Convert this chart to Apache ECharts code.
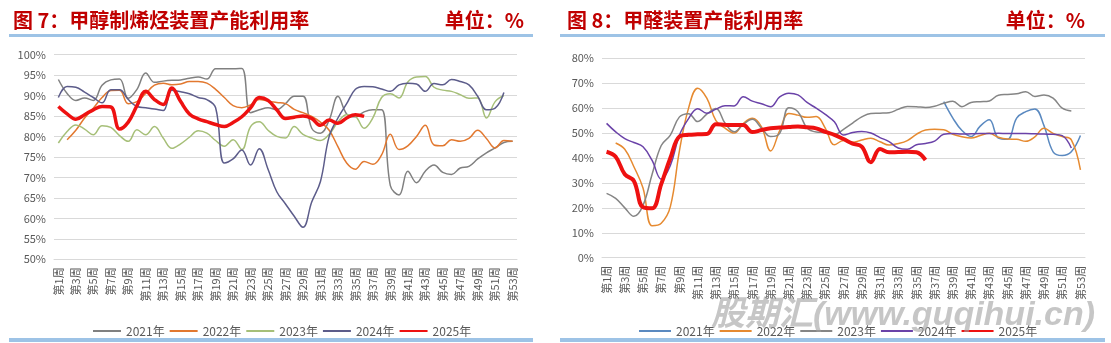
<!DOCTYPE html>
<html><head><meta charset="utf-8">
<script src="https://cdn.jsdelivr.net/npm/echarts@6/dist/echarts.min.js"></script>
<style>
html,body{margin:0;padding:0;background:#fff;width:1111px;height:343px;overflow:hidden}
#c1{position:absolute;left:0;top:0;width:555px;height:343px}
#c2{position:absolute;left:555px;top:0;width:556px;height:343px}
</style>
</head><body><div id="c1"></div><div id="c2"></div>
<script>
const weeks = ['第1周','第2周','第3周','第4周','第5周','第6周','第7周','第8周','第9周','第10周',
'第11周','第12周','第13周','第14周','第15周','第16周','第17周','第18周','第19周','第20周',
'第21周','第22周','第23周','第24周','第25周','第26周','第27周','第28周','第29周','第30周',
'第31周','第32周','第33周','第34周','第35周','第36周','第37周','第38周','第39周','第40周',
'第41周','第42周','第43周','第44周','第45周','第46周','第47周','第48周','第49周','第50周',
'第51周','第52周','第53周'];
const yearNames = ['2021年','2022年','2023年','2024年','2025年'];

// 图7 甲醇制烯烃装置产能利用率 (%)
const mto2021 = [93.9,90.5,88.8,89.4,88.8,92.5,93.8,94.0,89.3,91.5,95.5,93.2,93.5,93.7,93.8,94.2,94.5,94.0,96.5,96.5,96.5,96.6,85.8,86.5,87.0,86.5,88.0,89.8,89.8,82.0,80.8,84.0,89.8,85.5,84.8,86.0,86.5,86.5,68.0,65.7,71.5,68.7,71.5,73.0,71.2,70.7,72.3,72.7,74.5,76.0,77.2,78.5,78.8];
const mto2022 = [null,79.2,81.5,84.5,86.9,89.5,91.2,91.3,88.0,88.5,90.5,92.5,93.0,92.6,92.8,93.4,93.4,93.0,91.5,89.5,87.5,87.0,87.7,89.0,88.6,88.3,88.0,86.6,85.8,84.9,83.5,81.5,77.5,73.5,72.0,73.9,73.2,75.5,80.5,76.8,77.7,80.0,82.7,77.9,77.7,79.2,78.8,79.5,81.5,79.5,77.2,79.0,78.8];
const mto2023 = [78.4,81.2,82.8,81.8,80.4,82.6,82.2,80.2,78.8,81.6,80.4,82.4,79.6,77.1,78.2,79.8,81.4,80.8,79.0,77.6,79.2,76.8,82.4,83.6,81.5,80.0,79.6,82.4,80.5,79.6,79.0,80.5,83.5,85.3,84.9,82.0,84.5,89.5,90.4,89.4,93.3,94.5,94.6,92.0,91.3,91.0,90.2,89.3,89.4,84.5,88.5,90.0,null];
const mto2024 = [89.5,92.2,92.0,90.8,89.5,88.2,91.4,91.4,89.0,87.3,87.0,86.7,86.3,91.3,90.9,90.4,89.5,89.0,87.0,73.5,74.5,76.7,73.0,77.0,72.0,66.5,63.5,60.5,57.8,64.0,69.0,80.0,84.5,88.0,91.5,92.2,92.1,91.6,91.0,92.6,93.0,92.8,91.0,92.9,92.6,93.9,93.4,92.6,89.8,86.5,86.9,90.7,null];
const mto2025 = [87.3,85.5,84.2,85.3,86.5,87.3,87.2,81.8,83.5,87.5,91.0,89.0,87.8,91.8,88.5,85.5,84.3,83.6,82.9,82.4,83.4,84.8,87.0,89.5,88.8,86.5,84.4,84.7,85.0,84.4,82.7,84.0,83.2,84.5,85.3,84.9];

// 图8 甲醛装置产能利用率 (%)
const hcho2021 = [null,null,null,null,null,null,null,null,null,null,null,null,null,null,null,null,null,null,null,null,null,null,null,null,null,null,null,null,null,null,null,null,null,null,null,null,null,62.6,56.0,51.0,48.6,52.8,55.3,48.0,47.5,56.0,58.6,59.7,53.0,42.5,41.0,42.5,49.0];
const hcho2022 = [null,46.0,43.5,36.5,28.0,12.8,13.8,20.5,43.0,60.0,68.0,64.0,55.0,52.0,50.0,53.8,55.9,52.5,42.8,51.0,57.9,57.2,56.3,56.6,52.0,45.3,47.0,46.3,47.2,47.9,46.5,45.2,45.8,47.0,49.5,51.2,51.5,51.3,49.5,48.5,48.0,49.0,49.9,48.3,47.6,47.5,46.7,48.5,51.9,49.9,48.6,47.3,35.2];
const hcho2023 = [25.8,23.8,20.0,16.6,21.0,33.5,45.0,49.2,56.5,57.8,54.6,57.6,59.9,54.0,50.5,53.5,55.5,52.0,48.6,49.9,60.2,58.6,52.0,50.4,50.2,49.4,51.5,54.0,56.5,57.9,58.0,58.2,59.5,60.7,60.6,60.3,60.8,62.0,62.8,60.6,62.3,62.6,62.9,65.2,65.5,65.8,66.6,64.7,65.3,64.0,60.0,58.9,null];
const hcho2024 = [53.9,50.5,47.8,46.2,44.5,39.0,31.5,37.0,49.2,55.8,59.8,58.0,59.6,61.0,60.9,64.6,62.8,61.8,60.6,64.5,66.0,65.3,62.3,60.0,57.5,54.5,49.2,50.2,50.6,50.0,48.2,46.6,44.0,43.5,45.3,45.8,46.8,49.5,49.8,49.6,49.7,49.8,49.8,49.9,49.8,49.8,49.8,49.7,49.6,49.5,49.0,44.0,null];
const hcho2025 = [42.5,40.5,33.5,30.8,20.2,19.8,29.5,40.0,48.6,49.3,49.5,49.6,53.5,53.3,53.2,53.2,50.4,51.2,51.9,52.2,52.4,52.6,52.3,51.9,50.5,49.3,47.6,45.8,44.6,38.3,43.6,42.3,42.4,42.5,42.3,39.2];

const FONT = '"Noto Sans CJK SC","Noto Sans",sans-serif';
const LABEL = '#595959';
const GRIDC = '#D9D9D9';
const TITLEC = '#C00000';
const BAND = '#9DC3E6';

function mkSeries(names, datas, colors, widths){
  return names.map((n,i)=>({
    name:n, type:'line', data:datas[i], symbol:'none', showSymbol:false, smooth:0.4,
    connectNulls:false, z: i===4?10:2,
    lineStyle:{color:colors[i], width:widths[i]}, itemStyle:{color:colors[i]}
  }));
}

function build(c){
  return {
    animation:false,
    textStyle:{fontFamily:FONT},
    title:[
      {text:c.title, left:c.titleLeft, top:5, textStyle:{color:TITLEC, fontSize:20, fontWeight:'bold', fontFamily:FONT}},
      {text:'单位：%', right:c.unitRight, top:5, textStyle:{color:TITLEC, fontSize:20, fontWeight:'bold', fontFamily:FONT}}
    ],
    graphic:c.graphic,
    grid:{left:c.gl, right:c.gr, top:c.gt, height:c.gh, containLabel:false},
    legend:{left:c.legLeft, top:320, itemWidth:c.legW, itemHeight:10, itemGap:c.legGap,
      data:yearNames, itemStyle:{opacity:0, borderWidth:0},
      textStyle:{color:LABEL, fontSize:12, fontFamily:FONT}},
    xAxis:{type:'category', data:weeks, boundaryGap:true,
      axisLine:{lineStyle:{color:GRIDC, width:1}}, axisTick:{show:false},
      axisLabel:{interval:1, rotate:90, color:LABEL, fontSize:11, margin:8, fontFamily:FONT}},
    yAxis:{type:'value', min:c.ymin, max:c.ymax, interval:c.yint,
      axisLine:{show:false}, axisTick:{show:false},
      axisLabel:{formatter:'{value}%', color:LABEL, fontSize:11, margin:8, fontFamily:FONT},
      splitLine:{lineStyle:{color:GRIDC, width:1.2}}},
    series:c.series
  };
}

const ch1 = echarts.init(document.getElementById('c1'), null, {renderer:'canvas'});
ch1.setOption(build({
  title:'图 7：甲醇制烯烃装置产能利用率', titleLeft:8, unitRight:26,
  gl:54, gr:38, gt:54.5, gh:204.8, ymin:50, ymax:100, yint:5,
  legLeft:87, legW:28, legGap:4,
  graphic:[
    {type:'rect', shape:{x:9,y:34,width:524,height:3}, style:{fill:BAND}, silent:true},
    {type:'rect', shape:{x:9,y:338,width:524,height:4}, style:{fill:BAND}, silent:true}
  ],
  series:mkSeries(yearNames,[mto2021,mto2022,mto2023,mto2024,mto2025],
    ['#808080','#E2782F','#A6BF78','#5C5C8A','#EE1111'],[1.5,1.5,1.5,1.5,3.5])
}));

const ch2 = echarts.init(document.getElementById('c2'), null, {renderer:'canvas'});
ch2.setOption(build({
  title:'图 8：甲醛装置产能利用率', titleLeft:7, unitRight:21,
  gl:47, gr:26, gt:58.3, gh:199.4, ymin:0, ymax:80, yint:10,
  legLeft:78, legW:32, legGap:4,
  graphic:[
    {type:'rect', shape:{x:5,y:34,width:545,height:3}, style:{fill:BAND}, silent:true},
    {type:'rect', shape:{x:5,y:338,width:545,height:4}, style:{fill:BAND}, silent:true},
    {type:'text', z:100, silent:true, style:{text:'股期汇(www.guqihui.cn)', x:156, y:316,
      font:'italic bold 34px "Liberation Sans","Noto Sans CJK SC",sans-serif',
      fill:'rgba(160,160,160,0.6)', verticalAlign:'middle', align:'left'}}
  ],
  series:mkSeries(yearNames,[hcho2021,hcho2022,hcho2023,hcho2024,hcho2025],
    ['#5A89C0','#E68A30','#858585','#6A42A8','#EE1111'],[1.5,1.5,1.5,1.5,4])
}));
</script>
</body></html>
